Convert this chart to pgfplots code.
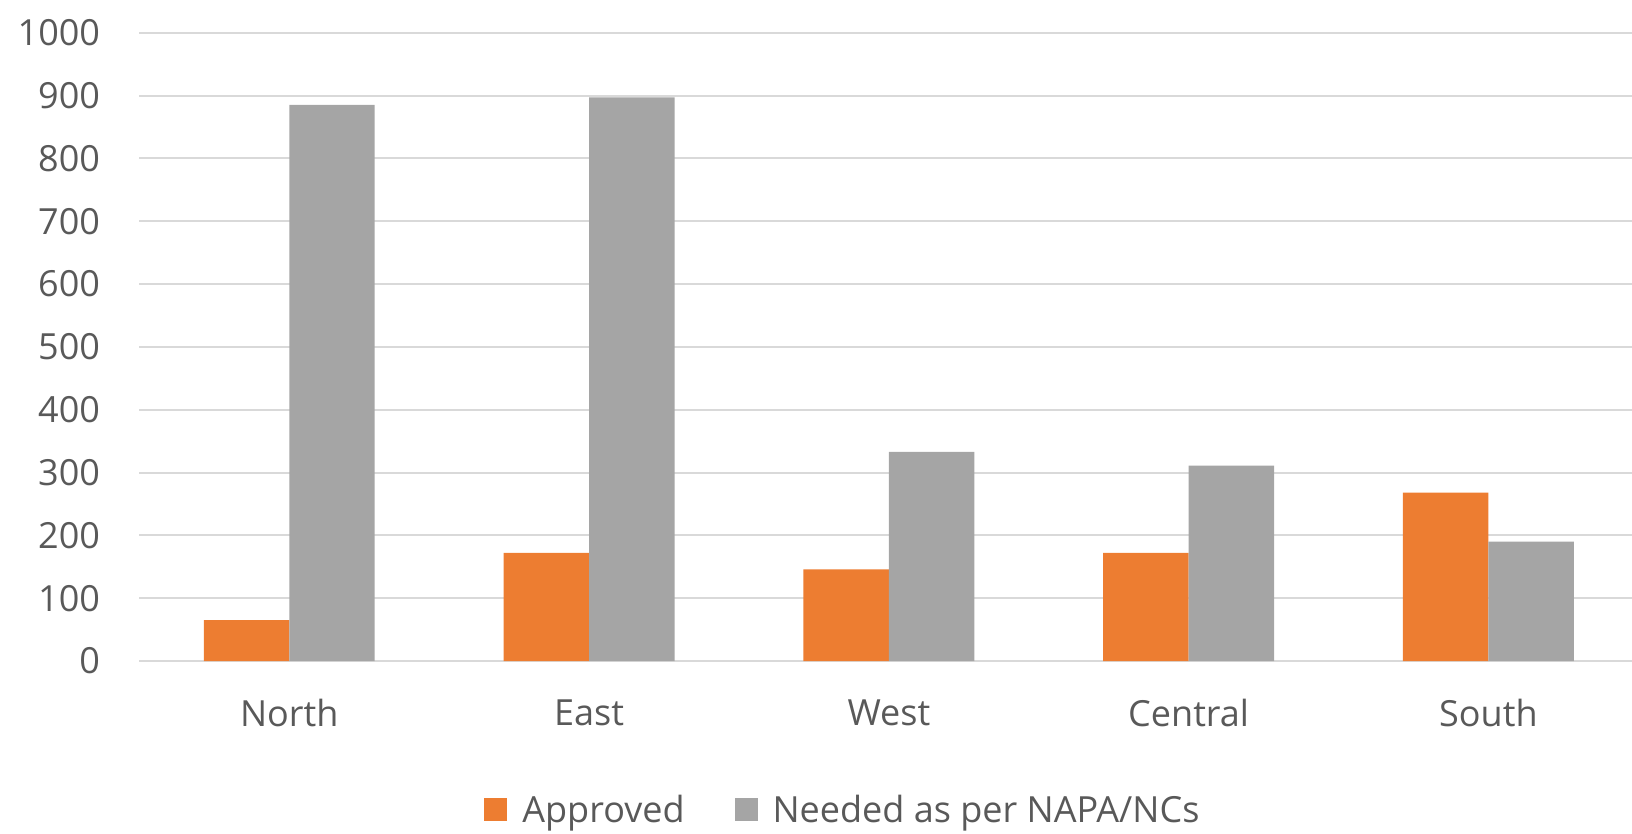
\documentclass[border=0pt]{standalone}
\usepackage{pgfplots}
\pgfplotsset{compat=1.18}
\usepackage{fontspec}
\setmainfont{Open Sans}
\definecolor{orng}{HTML}{ED7D31}
\definecolor{gry}{HTML}{A5A5A5}
\definecolor{gridc}{HTML}{D9D9D9}
\definecolor{txt}{HTML}{595959}
\begin{document}
\begin{tikzpicture}
\begin{axis}[
  at={(0,0)}, anchor=south west,
  scale only axis, width=746.3pt, height=314.15pt,
  xmin=-0.5, xmax=4.479, ymin=0, ymax=1000,
  ybar=0pt, bar width=0.285,
  xtick={0,1,2,3,4}, xticklabels={North,East,West,Central,South},
  ytick={0,100,...,1000},
  yticklabel style={/pgf/number format/1000 sep={}},
  ymajorgrids, grid style={draw=gridc, line width=1pt},
  axis line style={draw=none},
  major tick length=0pt,
  tick label style={font=\fontsize{18}{21}\selectfont, text=txt},
  /pgf/number format/assume math mode=true,
  yticklabel style={anchor=east, inner sep=0pt, xshift=-19.5pt},
  xticklabel style={anchor=north, inner sep=0pt, yshift=-19pt},
  legend style={at={(0.472,-0.237)}, anchor=center, draw=none,
    font=\fontsize{18}{21}\selectfont, text=txt, legend columns=2,
    /tikz/every odd column/.append style={column sep=5.5pt},
    /tikz/every even column/.append style={column sep=23pt}},
  legend image code/.code={\fill[#1] (0pt,-5.75pt) rectangle (11.5pt,5.75pt);},
]
\addplot[fill=orng, draw=none] coordinates {(0,65) (1,172) (2,146) (3,172) (4,268)};
\addplot[fill=gry, draw=none] coordinates {(0,885) (1,897) (2,333) (3,311) (4,190)};
\legend{Approved, Needed as per NAPA/NCs}
\end{axis}
\pgfresetboundingbox
\path[use as bounding box] (-69.7pt,-86.5pt) rectangle (746.3pt,330.5pt);
\end{tikzpicture}
\end{document}
